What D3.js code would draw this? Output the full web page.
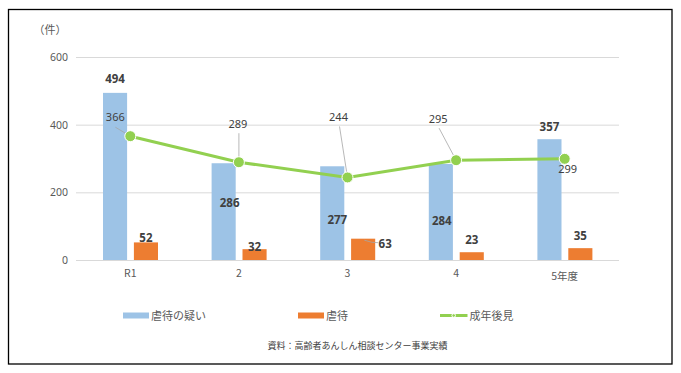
<!DOCTYPE html>
<html><head><meta charset="utf-8">
<script src="https://cdn.jsdelivr.net/npm/d3@7"></script>
<style>
body{margin:0;background:#fff;}
svg{display:block;}
text{font-family:"Noto Sans","Noto Sans CJK JP",sans-serif;}
.jp{font-family:"Noto Sans CJK JP","Noto Sans",sans-serif;}
</style></head>
<body>
<script>
const categories = ["R1","2","3","4","5年度"];
const suspected = [494,286,277,284,357];   // 虐待の疑い
const abuse = [52,32,63,23,35];             // 虐待
const guardianship = [366,289,244,295,299]; // 成年後見
const yTicks = [0,200,400,600];
const seriesNames = ["虐待の疑い","虐待","成年後見"];

// label placement offsets (styling, relative to marks)
const blueLabelOff = [[0,-9.5],[6,44],[5,58],[1,61],[0,-8]];
const orangeLabelOff = [[0,0],[0,1.5],[22,9],[0,-8],[0,-8]];
const lineLabelOff = [[-15,-15],[-1,-34],[-9,-56.5],[-18,-37],[3,14]];
const leaderStart = [[-15,-9],[0,-29],[-8,-51],[-17,-32],null];

const W=681,H=373;
const svg=d3.select("body").append("svg").attr("width",W).attr("height",H);
svg.append("rect").attr("x",8.5).attr("y",9.5).attr("width",663.5).attr("height",354.5)
  .attr("fill","#fff").attr("stroke","#000").attr("stroke-width",1.3);

const x=d3.scaleBand().domain(categories).range([76,619]).padding(0);
const x1=d3.scaleBand().domain([0,1]).range([27,82]).paddingInner(0.22);
const y=d3.scaleLinear().domain([0,600]).range([260,57]);

// grid
svg.append("g").selectAll("line").data(yTicks).join("line")
  .attr("x1",76).attr("x2",619).attr("y1",d=>y(d)+0.5).attr("y2",d=>y(d)+0.5)
  .attr("stroke","#d9d9d9").attr("stroke-width",1);
// y axis
const yAxis=d3.axisLeft(y).tickValues(yTicks).tickSize(0).tickPadding(8);
const gy=svg.append("g").attr("transform","translate(76,0)").call(yAxis);
gy.select(".domain").remove();
gy.selectAll("text").attr("fill","#595959").style("font-size","10.5px").attr("dx",0);
// x axis
const xAxis=d3.axisBottom(x).tickSize(0).tickPadding(9);
const gx=svg.append("g").attr("transform","translate(0,261)").call(xAxis);
gx.select(".domain").remove();
gx.selectAll("text").attr("fill","#595959").style("font-size","10.5px")
  .attr("class","jp").attr("dy",d=>d==="5年度"?"0.95em":"0.71em");

svg.append("text").attr("x",50).attr("y",34).attr("text-anchor","middle")
  .attr("class","jp").attr("fill","#595959").style("font-size","11px").text("（件）");

// bars
const blueC="#9DC3E6", orangeC="#ED7D31", greenC="#92D050";
svg.append("g").selectAll("rect").data(suspected).join("rect")
  .attr("x",(d,i)=>x(categories[i])+x1(0)).attr("width",x1.bandwidth())
  .attr("y",d=>y(d)).attr("height",d=>y(0)-y(d)).attr("fill",blueC);
svg.append("g").selectAll("rect").data(abuse).join("rect")
  .attr("x",(d,i)=>x(categories[i])+x1(1)).attr("width",x1.bandwidth())
  .attr("y",d=>y(d)).attr("height",d=>y(0)-y(d)).attr("fill",orangeC);

// leader for 63
{
  const i=2, bx=x(categories[i])+x1(1)+x1.bandwidth()*0.55, by=y(abuse[i])+1.5;
  svg.append("path").attr("d",`M${bx},${by} Q${bx+8},${by+3} ${bx+14},${by+2.5}`)
    .attr("fill","none").attr("stroke","#a6a6a6").attr("stroke-width",0.8);
}

// line
const cx=i=>x(categories[i])+x.bandwidth()/2;
const line=d3.line().x((d,i)=>cx(i)).y(d=>y(d));
// leaders
svg.append("g").selectAll("line").data(guardianship).join("line")
  .filter((d,i)=>leaderStart[i])
  .attr("x1",(d,i)=>cx(i)+leaderStart[i][0]).attr("y1",(d,i)=>y(d)+leaderStart[i][1])
  .attr("x2",(d,i)=>cx(i)).attr("y2",d=>y(d))
  .attr("stroke","#a6a6a6").attr("stroke-width",0.8);
svg.append("path").datum(guardianship).attr("d",line).attr("fill","none")
  .attr("stroke",greenC).attr("stroke-width",3);
svg.append("g").selectAll("circle").data(guardianship).join("circle")
  .attr("cx",(d,i)=>cx(i)).attr("cy",d=>y(d)).attr("r",5.5)
  .attr("fill",greenC).attr("stroke","#fff").attr("stroke-width",1);

// labels
const lab=svg.append("g").attr("fill","#404040");
lab.selectAll(".bl").data(suspected).join("text")
  .attr("x",(d,i)=>x(categories[i])+x1(0)+x1.bandwidth()/2+blueLabelOff[i][0])
  .attr("y",(d,i)=>y(d)+blueLabelOff[i][1])
  .attr("text-anchor","middle").style("font-size","11.5px").style("font-weight","bold").text(d=>d);
lab.selectAll(".ol").data(abuse).join("text")
  .attr("x",(d,i)=>x(categories[i])+x1(1)+x1.bandwidth()/2+orangeLabelOff[i][0])
  .attr("y",(d,i)=>y(d)+orangeLabelOff[i][1])
  .attr("text-anchor","middle").style("font-size","11.5px").style("font-weight","bold").text(d=>d);
lab.selectAll(".ll").data(guardianship).join("text")
  .attr("x",(d,i)=>cx(i)+lineLabelOff[i][0])
  .attr("y",(d,i)=>y(d)+lineLabelOff[i][1])
  .attr("text-anchor","middle").style("font-size","11px").text(d=>d);

// legend
const lg=svg.append("g").attr("class","jp");
lg.append("rect").attr("x",123).attr("y",312.5).attr("width",26).attr("height",6).attr("fill",blueC);
lg.append("rect").attr("x",298).attr("y",312.5).attr("width",26).attr("height",6).attr("fill",orangeC);
lg.append("line").attr("x1",440).attr("x2",467.5).attr("y1",315.5).attr("y2",315.5)
  .attr("stroke",greenC).attr("stroke-width",3);
lg.append("circle").attr("cx",453.7).attr("cy",315.5).attr("r",1.8).attr("fill",greenC).attr("stroke","#fff").attr("stroke-width",1);
[[151,0],[326,1],[469.5,2]].forEach(([lx,k])=>{
  lg.append("text").attr("x",lx).attr("y",319.5).attr("fill","#595959")
    .style("font-size","11px").text(seriesNames[k]);
});

svg.append("text").attr("class","jp").attr("x",357.5).attr("y",348.5).attr("text-anchor","middle")
  .attr("fill","#404040").style("font-size","9px").text("資料：高齢者あんしん相談センター事業実績");
</script>
</body></html>
